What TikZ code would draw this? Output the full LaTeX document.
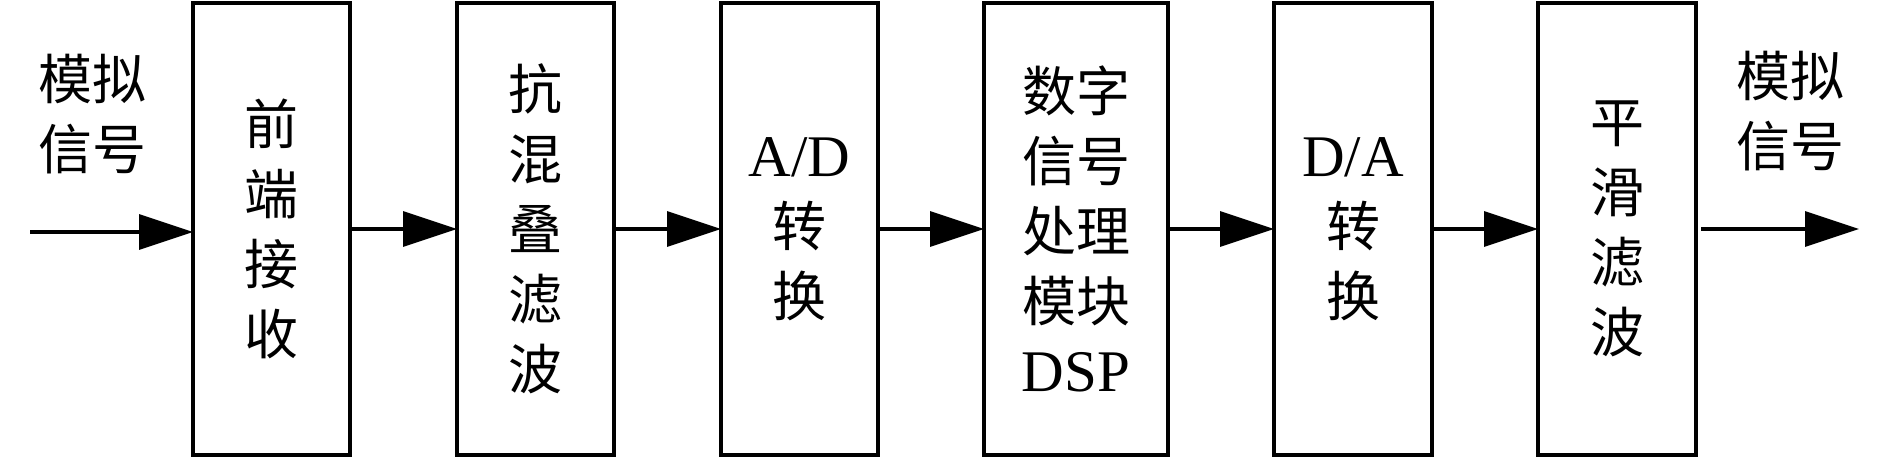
\documentclass[tikz,border=0pt]{standalone}
\usepackage{fontspec}
\setmainfont{Liberation Serif}
\newfontfamily\cjk{Noto Sans CJK SC}
\usetikzlibrary{arrows.meta}
\newcommand{\latn}[1]{{\fontsize{59}{70}\selectfont #1}}
\begin{document}
\begin{tikzpicture}[x=1pt,y=-1pt,
  blk/.style={draw=black,line width=3.3pt,minimum height=452pt,inner sep=0pt,outer sep=0pt,
    align=center,font=\fontsize{54}{70}\selectfont},
  lbl/.style={inner sep=0pt,align=center,font=\cjk\fontsize{54}{70}\selectfont},
  conn/.style={line width=3.3pt,-{Triangle[length=54pt,width=35pt]}}
]
\useasboundingbox (0,0) rectangle (1890,458);
\node[blk,minimum width=157pt] (b1) at (271.5,229) {\cjk 前\\\cjk 端\\\cjk 接\\\cjk 收};
\node[blk,minimum width=157pt] (b2) at (535.5,229) {\cjk 抗\\\cjk 混\\\cjk 叠\\\cjk 滤\\\cjk 波};
\node[blk,minimum width=157pt] (b3) at (799.5,229) {\latn{A/D}\\\cjk 转\\\cjk 换};
\node[blk,minimum width=184pt] (b4) at (1076,229) {\cjk 数字\\\cjk 信号\\\cjk 处理\\\cjk 模块\\\latn{DSP}};
\node[blk,minimum width=158pt] (b5) at (1353,229) {\latn{D/A}\\\cjk 转\\\cjk 换};
\node[blk,minimum width=158pt] (b6) at (1617,229) {\cjk 平\\\cjk 滑\\\cjk 滤\\\cjk 波};
\node[lbl] (inl) at (92,114) {模拟\\信号};
\node[lbl] (outl) at (1790,111) {模拟\\信号};
\coordinate (in) at (30,232);
\coordinate (out) at (1859,229);
\draw[conn] (in) -- (in -| b1.west);
\draw[conn] (b1.east) -- (b2.west);
\draw[conn] (b2.east) -- (b3.west);
\draw[conn] (b3.east) -- (b4.west);
\draw[conn] (b4.east) -- (b5.west);
\draw[conn] (b5.east) -- (b6.west);
\draw[conn,shorten <=5pt] (b6.east) -- (out);
\end{tikzpicture}
\end{document}
